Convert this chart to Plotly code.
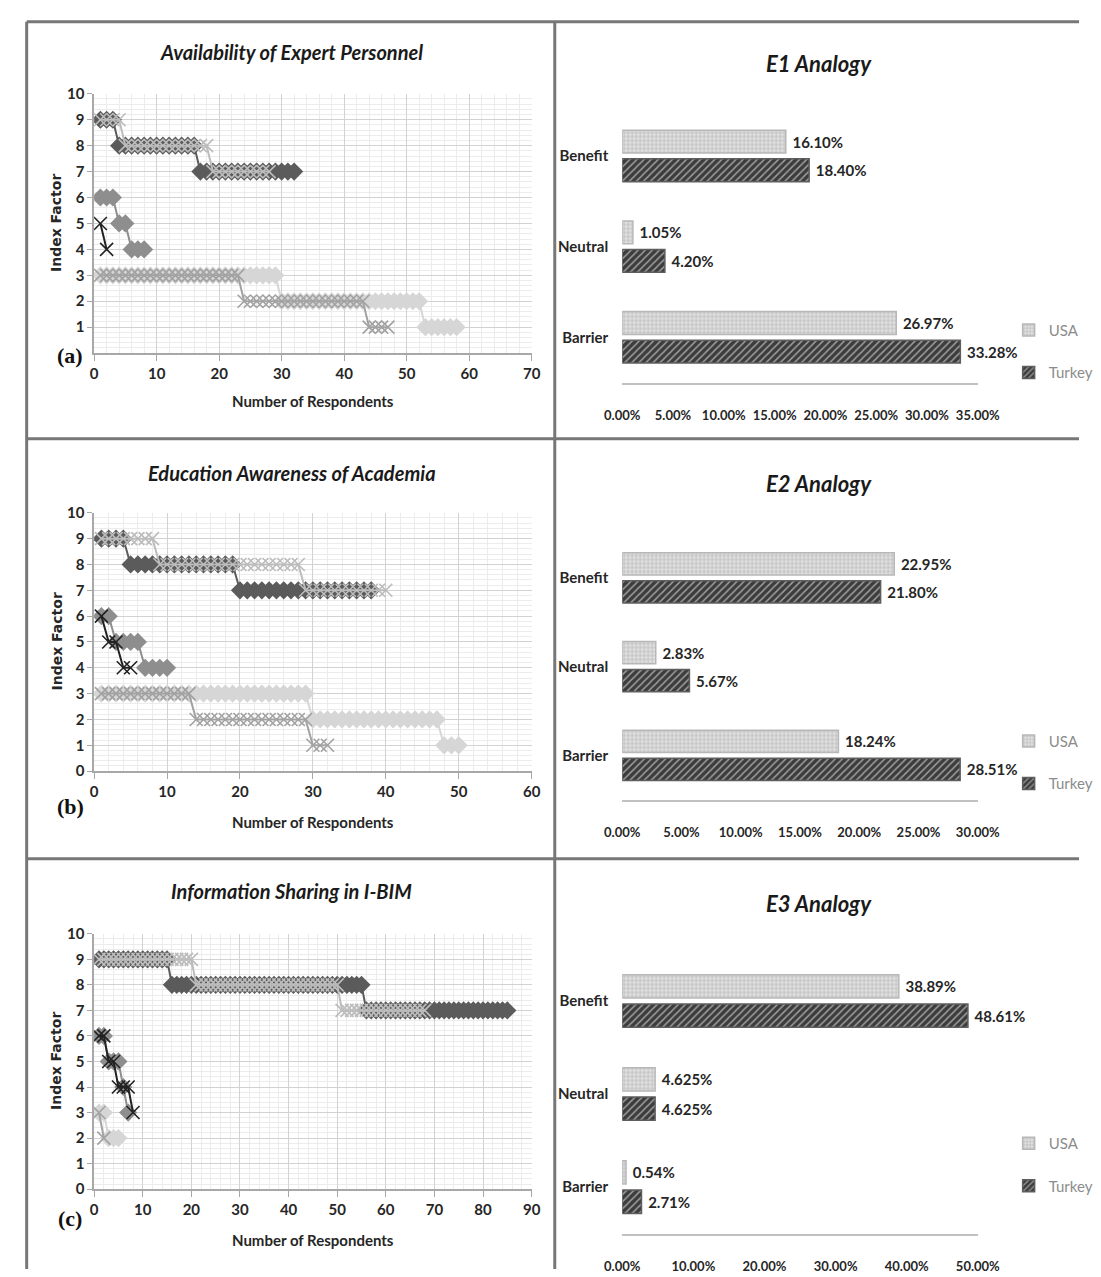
import plotly.graph_objects as go

W, H = 1101, 1277


def px(x):
    return x / W


def py(y):
    return 1 - y / H


# ---------------- DATA: index factor of each respondent (left panels) ----------------
# (a) Availability of Expert Personnel
a_tr_benefit = [9, 9, 9,
                8, 8, 8, 8, 8, 8, 8, 8, 8, 8, 8, 8, 8,
                7, 7, 7, 7, 7, 7, 7, 7, 7, 7, 7, 7, 7, 7, 7, 7]
a_us_benefit = [9, 9, 9, 9,
                8, 8, 8, 8, 8, 8, 8, 8, 8, 8, 8, 8, 8, 8,
                7, 7, 7, 7, 7, 7, 7, 7, 7, 7]
a_tr_neutral = [6, 6, 6, 5, 5, 4, 4, 4]
a_us_neutral = [5, 4]
a_tr_barrier = [3, 3, 3, 3, 3, 3, 3, 3, 3, 3,
                3, 3, 3, 3, 3, 3, 3, 3, 3, 3,
                3, 3, 3, 3, 3, 3, 3, 3, 3,
                2, 2, 2, 2, 2, 2, 2, 2, 2, 2,
                2, 2, 2, 2, 2, 2, 2, 2, 2, 2,
                2, 2, 2,
                1, 1, 1, 1, 1, 1]
a_us_barrier = [3, 3, 3, 3, 3, 3, 3, 3, 3, 3,
                3, 3, 3, 3, 3, 3, 3, 3, 3, 3,
                3, 3, 3,
                2, 2, 2, 2, 2, 2, 2, 2, 2, 2,
                2, 2, 2, 2, 2, 2, 2, 2, 2, 2,
                1, 1, 1, 1]

# (b) Education Awareness of Academia
b_tr_benefit = [9, 9, 9, 9,
                8, 8, 8, 8, 8, 8, 8, 8, 8, 8, 8, 8, 8, 8, 8,
                7, 7, 7, 7, 7, 7, 7, 7, 7, 7, 7, 7, 7, 7, 7, 7, 7, 7, 7]
b_us_benefit = [9, 9, 9, 9, 9, 9, 9, 9,
                8, 8, 8, 8, 8, 8, 8, 8, 8, 8, 8, 8, 8, 8, 8, 8, 8, 8, 8, 8,
                7, 7, 7, 7, 7, 7, 7, 7, 7, 7, 7, 7]
b_tr_neutral = [6, 6, 5, 5, 5, 5, 4, 4, 4, 4]
b_us_neutral = [6, 5, 5, 4, 4]
b_tr_barrier = [3, 3, 3, 3, 3, 3, 3, 3, 3, 3,
                3, 3, 3, 3, 3, 3, 3, 3, 3, 3,
                3, 3, 3, 3, 3, 3, 3, 3, 3,
                2, 2, 2, 2, 2, 2, 2, 2, 2, 2,
                2, 2, 2, 2, 2, 2, 2, 2,
                1, 1, 1]
b_us_barrier = [3, 3, 3, 3, 3, 3, 3, 3, 3, 3,
                3, 3, 3,
                2, 2, 2, 2, 2, 2, 2, 2, 2, 2,
                2, 2, 2, 2, 2, 2,
                1, 1, 1]

# (c) Information Sharing in I-BIM
c_tr_benefit = [9, 9, 9, 9, 9, 9, 9, 9, 9, 9,
                9, 9, 9, 9, 9,
                8, 8, 8, 8, 8, 8, 8, 8, 8, 8,
                8, 8, 8, 8, 8, 8, 8, 8, 8, 8,
                8, 8, 8, 8, 8, 8, 8, 8, 8, 8,
                8, 8, 8, 8, 8, 8, 8, 8, 8, 8,
                7, 7, 7, 7, 7, 7, 7, 7, 7, 7,
                7, 7, 7, 7, 7, 7, 7, 7, 7, 7,
                7, 7, 7, 7, 7, 7, 7, 7, 7, 7]
c_us_benefit = [9, 9, 9, 9, 9, 9, 9, 9, 9, 9,
                9, 9, 9, 9, 9, 9, 9, 9, 9, 9,
                8, 8, 8, 8, 8, 8, 8, 8, 8, 8,
                8, 8, 8, 8, 8, 8, 8, 8, 8, 8,
                8, 8, 8, 8, 8, 8, 8, 8, 8, 8,
                7, 7, 7, 7, 7, 7, 7, 7, 7, 7,
                7, 7, 7, 7, 7, 7, 7, 7]
c_tr_neutral = [6, 6, 5, 5, 5, 4, 3]
c_us_neutral = [6, 6, 5, 5, 4, 4, 4, 3]
c_tr_barrier = [3, 3, 2, 2, 2]
c_us_barrier = [3, 2]

line_titles = ["Availability of Expert Personnel",
               "Education Awareness of Academia",
               "Information Sharing in I-BIM"]
panel_letters = ["(a)", "(b)", "(c)"]
x_max = [70, 60, 90]

# ---------------- DATA: analogy bar charts (right panels, %) ----------------
categories = ["Barrier", "Neutral", "Benefit"]
e1_usa = [26.97, 1.05, 16.10]
e1_turkey = [33.28, 4.20, 18.40]
e2_usa = [18.24, 2.83, 22.95]
e2_turkey = [28.51, 5.67, 21.80]
e3_usa = [0.54, 4.625, 38.89]
e3_turkey = [2.71, 4.625, 48.61]
bar_titles = ["E1 Analogy", "E2 Analogy", "E3 Analogy"]
bar_max = [0.35, 0.30, 0.50]
bar_dtick = [0.05, 0.05, 0.10]


def pct_label(v):
    s = f"{v:.3f}"
    if s.endswith("0"):
        s = s[:-1]
    return "\u00a0" + s + "%"


# ---------------- LAYOUT GEOMETRY (pixels) ----------------
LX0, LX1 = 79, 533
line_y = [(85, 348), (510, 772), (937, 1196)]       # (top, bottom) of plot areas
title_y = [43, 470, 894]
nor_y = [397, 824, 1248]
letter_y = [350, 808, 1226]

RX0, RX1 = 627, 996
bar_y = [(102, 378), (531, 801), (958, 1241)]
bar_title_y = [54, 480, 906]
legend_top = [308, 725, 1133]

FONT = "Lato, 'Open Sans', sans-serif"
DARK = "#262626"

fig = go.Figure()

series_styles = [
    ("diamond", "#5b5b5b"),   # Turkey benefit
    ("diamond", "#8e8e8e"),   # Turkey neutral
    ("diamond", "#d6d6d6"),   # Turkey barrier
    ("x-thin", "#bcbcbc"),    # USA benefit
    ("x-thin", "#222222"),    # USA neutral
    ("x-thin", "#a2a2a2"),    # USA barrier
]

line_data = [
    [a_tr_benefit, a_tr_neutral, a_tr_barrier, a_us_benefit, a_us_neutral, a_us_barrier],
    [b_tr_benefit, b_tr_neutral, b_tr_barrier, b_us_benefit, b_us_neutral, b_us_barrier],
    [c_tr_benefit, c_tr_neutral, c_tr_barrier, c_us_benefit, c_us_neutral, c_us_barrier],
]

annotations = []
for i in range(3):
    xa = "x" if i == 0 else f"x{i + 1}"
    ya = "y" if i == 0 else f"y{i + 1}"
    for ys, (sym, col) in zip(line_data[i], series_styles):
        xs = list(range(1, len(ys) + 1))
        if sym == "diamond":
            marker = dict(symbol="diamond", size=14, color=col, line=dict(width=0))
        else:
            marker = dict(symbol="x-thin", size=13, color=col, line=dict(width=1.6, color=col))
        fig.add_trace(go.Scatter(x=xs, y=ys, mode="lines+markers", xaxis=xa, yaxis=ya,
                                 line=dict(color=col, width=2), marker=marker,
                                 showlegend=False, hoverinfo="skip"))
    top, bot = line_y[i]
    yvals = list(range(1, 11)) if i == 0 else list(range(0, 11))
    fig.layout[("xaxis" if i == 0 else f"xaxis{i + 1}")] = dict(
        domain=[px(LX0), px(LX1)], range=[0, x_max[i]], anchor=ya, dtick=10,
        showgrid=True, gridcolor="#d2d2d2", gridwidth=1,
        minor=dict(dtick=2, showgrid=True, gridcolor="#ececec", ticks=""),
        showline=True, linecolor="#a8a8a8", linewidth=1.5, zeroline=False,
        ticks="outside", ticklen=6, tickcolor="#a8a8a8",
        tickfont=dict(family=FONT, size=15, color=DARK, weight="bold"), fixedrange=True)
    fig.layout[("yaxis" if i == 0 else f"yaxis{i + 1}")] = dict(
        domain=[py(bot), py(top)], range=[0, 10], anchor=xa, tickmode="array", tickvals=yvals,
        showgrid=True, gridcolor="#d2d2d2", gridwidth=1,
        minor=dict(tickmode="linear", tick0=0, dtick=0.2, showgrid=True, gridcolor="#ececec", ticks=""),
        showline=True, linecolor="#a8a8a8", linewidth=1.5, zeroline=False,
        ticks="outside", ticklen=5, tickcolor="#a8a8a8",
        tickfont=dict(family=FONT, size=15, color=DARK, weight="bold"), fixedrange=True)
    annotations.append(dict(text=line_titles[i], x=px(284), y=py(title_y[i]), xref="paper", yref="paper",
                            showarrow=False, xanchor="center", yanchor="middle",
                            font=dict(family=FONT, size=20, color="#1a1a1a", weight="bold", style="italic")))
    annotations.append(dict(text="Number of Respondents", x=px(306), y=py(nor_y[i]), xref="paper", yref="paper",
                            showarrow=False, xanchor="center", yanchor="middle",
                            font=dict(family=FONT, size=15, color=DARK, weight="bold")))
    annotations.append(dict(text="Index Factor", x=px(40), y=py((top + bot) / 2), xref="paper", yref="paper",
                            showarrow=False, xanchor="center", yanchor="middle", textangle=-90,
                            font=dict(family="DejaVu Sans", size=14, color=DARK, weight="bold")))
    annotations.append(dict(text=panel_letters[i], x=px(54), y=py(letter_y[i]), xref="paper", yref="paper",
                            showarrow=False, xanchor="center", yanchor="middle",
                            font=dict(family="Liberation Serif, serif", size=22, color="#111111", weight="bold")))

bar_data = [(e1_usa, e1_turkey), (e2_usa, e2_turkey), (e3_usa, e3_turkey)]
for j in range(3):
    k = j + 4
    xa, ya = f"x{k}", f"y{k}"
    leg = "legend" if j == 0 else f"legend{j + 1}"
    usa, tur = bar_data[j]
    fig.add_trace(go.Bar(
        y=categories, x=[v / 100 for v in tur], orientation="h", xaxis=xa, yaxis=ya,
        name="Turkey", legend=leg, legendgroup=f"t{j}", legendrank=2,
        marker=dict(color="#3c3c3c", line=dict(color="#5e5e5e", width=1.5),
                    pattern=dict(shape="/", fgcolor="#ffffff", size=5, solidity=0.3)),
        text=[pct_label(v) for v in tur], textposition="outside", cliponaxis=False,
        constraintext="none", textfont=dict(family=FONT, size=15, color=DARK, weight="bold"),
        hoverinfo="skip"))
    fig.add_trace(go.Bar(
        y=categories, x=[v / 100 for v in usa], orientation="h", xaxis=xa, yaxis=ya,
        name="USA", legend=leg, legendgroup=f"u{j}", legendrank=1,
        marker=dict(color="#e2e2e2", line=dict(color="#b8b8b8", width=1.5),
                    pattern=dict(shape="+", fgcolor="#8a8a8a", size=4, solidity=0.35)),
        text=[pct_label(v) for v in usa], textposition="outside", cliponaxis=False,
        constraintext="none", textfont=dict(family=FONT, size=15, color=DARK, weight="bold"),
        hoverinfo="skip"))
    top, bot = bar_y[j]
    fig.layout[f"xaxis{k}"] = dict(
        domain=[px(RX0), px(RX1)], range=[0, bar_max[j]], anchor=ya, dtick=bar_dtick[j],
        tickformat=".2%", showgrid=False, zeroline=False,
        showline=True, linecolor="#c0c0c0", linewidth=2,
        ticks="outside", ticklen=20, tickcolor="rgba(0,0,0,0)",
        tickfont=dict(family=FONT, size=13, color=DARK, weight="bold"), fixedrange=True)
    fig.layout[f"yaxis{k}"] = dict(
        domain=[py(bot), py(top)], anchor=xa, type="category",
        categoryorder="array", categoryarray=categories,
        showgrid=False, showline=False, zeroline=False,
        ticks="outside", ticklen=10, tickcolor="rgba(0,0,0,0)",
        tickfont=dict(family=FONT, size=15, color=DARK, weight="bold"), fixedrange=True)
    fig.layout[leg] = dict(
        x=px(1028), y=py(legend_top[j]), xanchor="left", yanchor="top",
        bgcolor="rgba(0,0,0,0)", traceorder="grouped", tracegroupgap=20,
        itemwidth=30, font=dict(family=FONT, size=15, color="#8c8c8c"))
    annotations.append(dict(text=bar_titles[j], x=px(831), y=py(bar_title_y[j]), xref="paper", yref="paper",
                            showarrow=False, xanchor="center", yanchor="middle",
                            font=dict(family=FONT, size=22, color="#1a1a1a", weight="bold", style="italic")))

# panel frame lines
FRAME = "#777777"
shapes = [
    dict(type="line", xref="paper", yref="paper", x0=px(9), x1=1, y0=py(12), y1=py(12),
         line=dict(color=FRAME, width=3)),
    dict(type="line", xref="paper", yref="paper", x0=px(9), x1=px(9), y0=py(12), y1=0,
         line=dict(color=FRAME, width=3)),
    dict(type="line", xref="paper", yref="paper", x0=px(557), x1=px(557), y0=py(12), y1=0,
         line=dict(color=FRAME, width=3)),
    dict(type="line", xref="paper", yref="paper", x0=px(9), x1=1, y0=py(435), y1=py(435),
         line=dict(color=FRAME, width=3)),
    dict(type="line", xref="paper", yref="paper", x0=px(9), x1=1, y0=py(861), y1=py(861),
         line=dict(color=FRAME, width=3)),
]

fig.update_layout(
    width=W, height=H, margin=dict(l=0, r=0, t=0, b=0),
    paper_bgcolor="white", plot_bgcolor="white",
    barmode="group", bargap=0.37, bargroupgap=0.2,
    annotations=annotations, shapes=shapes,
    font=dict(family=FONT, color=DARK),
)

fig.write_html("out.html",
               post_script="document.body.style.margin='0';document.body.style.padding='0';"
                           "document.documentElement.style.overflow='hidden';")
